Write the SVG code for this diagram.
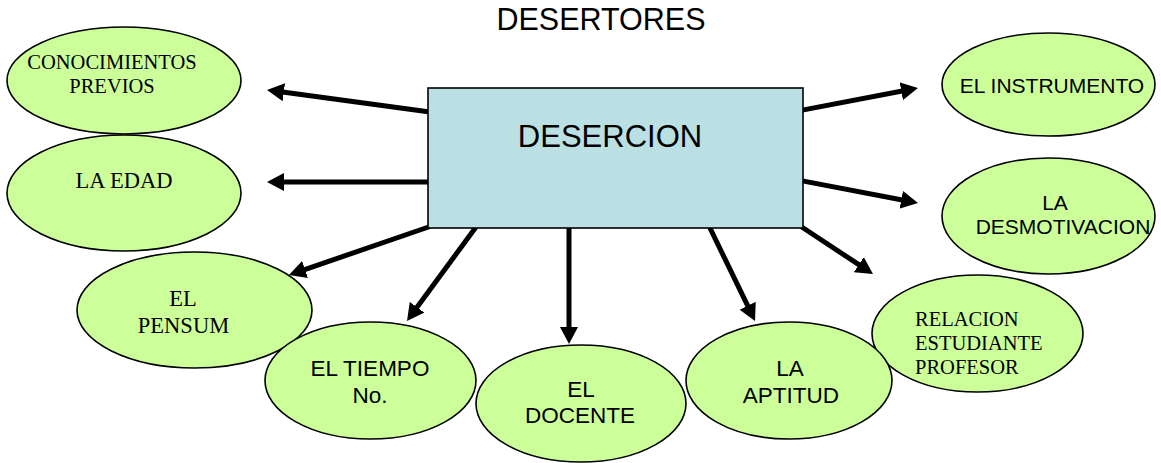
<svg xmlns="http://www.w3.org/2000/svg" width="1161" height="463" viewBox="0 0 1161 463">
<defs>
<style>
.oval{fill:#ccff99;stroke:#000;stroke-width:1.6}
.box{fill:#bbe0e3;stroke:#000;stroke-width:1.6}
.conn{stroke:#000;stroke-width:5;fill:none;marker-end:url(#ah)}
.serif{font-family:"Liberation Serif","Times New Roman",serif;fill:#000}
.sans{font-family:"Liberation Sans",Arial,sans-serif;fill:#000}
.mid{text-anchor:middle}
</style>
<marker id="ah" markerUnits="userSpaceOnUse" markerWidth="18" markerHeight="18" refX="5" refY="9" orient="auto">
<path d="M0,0 L17,9 L0,18 Z" fill="#000"/>
</marker>
</defs>
<rect width="1161" height="463" fill="#fff"/>
<text class="sans mid" x="601" y="30" font-size="30.5">DESERTORES</text>
<g id="connectors">
<line class="conn" x1="430" y1="112" x2="278.9" y2="91.6"/>
<line class="conn" x1="430" y1="182" x2="279" y2="182"/>
<line class="conn" x1="430" y1="226.5" x2="300.3" y2="271.1"/>
<line class="conn" x1="476" y1="227" x2="414.1" y2="311.3"/>
<line class="conn" x1="569" y1="226" x2="569" y2="332"/>
<line class="conn" x1="709.5" y1="227" x2="749.8" y2="310.2"/>
<line class="conn" x1="801" y1="226.5" x2="863" y2="267.4"/>
<line class="conn" x1="801" y1="180.6" x2="906.2" y2="200.7"/>
<line class="conn" x1="801" y1="110.4" x2="906.2" y2="90.3"/>
</g>
<g id="desercion">
<rect class="box" x="428" y="88" width="375" height="140"/>
<text class="sans mid" x="610" y="147" font-size="31">DESERCION</text>
</g>
<g id="conocimientos">
<ellipse class="oval" cx="124" cy="80.5" rx="117" ry="53.5"/>
<text class="serif mid" x="112" y="69" font-size="20.5">CONOCIMIENTOS</text>
<text class="serif mid" x="112" y="93" font-size="20.5">PREVIOS</text>
</g>
<g id="edad">
<ellipse class="oval" cx="124" cy="193" rx="117" ry="58"/>
<text class="serif mid" x="124" y="188" font-size="22.5">LA EDAD</text>
</g>
<g id="pensum">
<ellipse class="oval" cx="194.5" cy="310" rx="117.5" ry="58"/>
<text class="serif mid" x="183" y="306" font-size="22.5">EL</text>
<text class="serif mid" x="183.5" y="333" font-size="22.5">PENSUM</text>
</g>
<g id="tiempo">
<ellipse class="oval" cx="370.5" cy="380.5" rx="105.5" ry="58.5"/>
<text class="sans mid" x="370" y="376" font-size="22.5">EL TIEMPO</text>
<text class="sans mid" x="370" y="403" font-size="22.5">No.</text>
</g>
<g id="docente">
<ellipse class="oval" cx="581" cy="403.5" rx="105" ry="58.5"/>
<text class="sans mid" x="581" y="397" font-size="22.5">EL</text>
<text class="sans mid" x="580" y="423" font-size="22.5">DOCENTE</text>
</g>
<g id="relacion">
<ellipse class="oval" cx="977.5" cy="333.5" rx="105.5" ry="58.5"/>
<text class="serif" x="915" y="326" font-size="20.5">RELACION</text>
<text class="serif" x="915" y="350" font-size="20.5">ESTUDIANTE</text>
<text class="serif" x="915" y="374" font-size="20.5">PROFESOR</text>
</g>
<g id="aptitud">
<ellipse class="oval" cx="789" cy="380.5" rx="103" ry="58.5"/>
<text class="sans mid" x="790" y="376" font-size="22.5">LA</text>
<text class="sans mid" x="791" y="403" font-size="22.5">APTITUD</text>
</g>
<g id="instrumento">
<ellipse class="oval" cx="1048.5" cy="84.5" rx="106.5" ry="51.5"/>
<text class="sans mid" x="1052" y="93" font-size="21">EL INSTRUMENTO</text>
</g>
<g id="desmotivacion">
<ellipse class="oval" cx="1048.5" cy="216" rx="106.5" ry="58"/>
<text class="sans mid" x="1055" y="210" font-size="21">LA</text>
<text class="sans mid" x="1063" y="234" font-size="21">DESMOTIVACION</text>
</g>
</svg>
